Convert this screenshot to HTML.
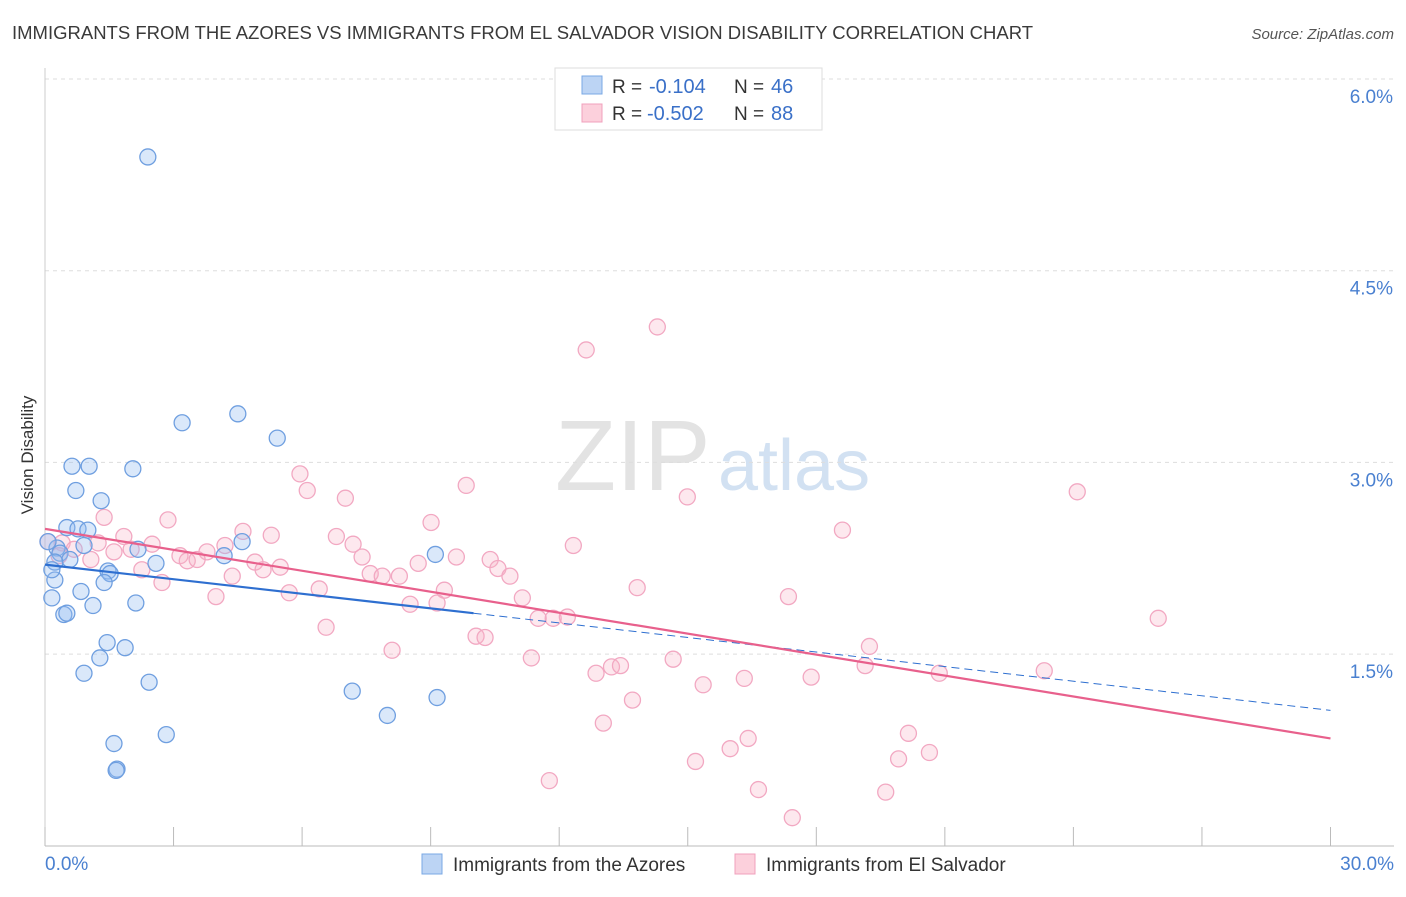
<!DOCTYPE html>
<html><head><meta charset="utf-8"><style>
body{margin:0;background:#fff;font-family:"Liberation Sans",sans-serif}
svg text{font-family:"Liberation Sans",sans-serif}
</style></head><body>
<svg id="chart" width="1406" height="892" xmlns="http://www.w3.org/2000/svg">
<text x="12" y="39" font-size="18.5" fill="#3a3a3a">IMMIGRANTS FROM THE AZORES VS IMMIGRANTS FROM EL SALVADOR VISION DISABILITY CORRELATION CHART</text>
<text x="1394" y="39" font-size="15" fill="#555" text-anchor="end" font-style="italic">Source: ZipAtlas.com</text>
<text x="555" y="490" font-size="100" fill="#ddd" font-family="Liberation Serif" opacity="0.8">ZIP</text>
<text x="718" y="490" font-size="72" fill="#c8daf0" opacity="0.8">atlas</text>
<g id="grid"></g><g id="axes"></g><g id="marks"></g>
<text transform="translate(33,455) rotate(-90)" font-size="17" fill="#333" text-anchor="middle">Vision Disability</text>
<g>
<rect x="555" y="68" width="267" height="62" fill="#fff" stroke="#ddd"/>
<rect x="582" y="76" width="20" height="18" fill="#bcd4f4" stroke="#7aa8e4"/>
<rect x="582" y="104" width="20" height="18" fill="#fcd0dc" stroke="#f0a0bc"/>
<text x="612" y="93" font-size="19" fill="#333">R =</text>
<text x="649" y="93" font-size="20" fill="#3a70c8">-0.104</text>
<text x="734" y="93" font-size="19" fill="#333">N =</text>
<text x="771" y="93" font-size="20" fill="#3a70c8">46</text>
<text x="612" y="120" font-size="19" fill="#333">R =</text>
<text x="647" y="120" font-size="20" fill="#3a70c8">-0.502</text>
<text x="734" y="120" font-size="19" fill="#333">N =</text>
<text x="771" y="120" font-size="20" fill="#3a70c8">88</text>
</g>
<g>
<rect x="422" y="854" width="20" height="20" fill="#bcd4f4" stroke="#7aa8e4"/>
<text x="453" y="871" font-size="19" fill="#333">Immigrants from the Azores</text>
<rect x="735" y="854" width="20" height="20" fill="#fcd0dc" stroke="#f0a0bc"/>
<text x="766" y="871" font-size="19" fill="#333">Immigrants from El Salvador</text>
</g>
</svg>
<script>
const yTicks=[6.0,4.5,3.0,1.5];
const xTickLabels=["0.0%","30.0%"];
const blueX=[2.40,4.50,3.20,5.42,0.63,1.03,2.05,0.72,1.31,0.51,0.77,1.00,4.60,0.91,0.28,2.17,0.35,9.11,4.18,0.58,0.23,2.59,1.47,1.52,0.23,1.38,0.84,0.16,2.12,1.12,0.44,0.51,1.45,1.87,1.28,0.91,2.43,7.17,9.15,7.99,2.83,1.61,1.68,1.66,0.16,0.07];
const blueY=[5.39,3.38,3.31,3.19,2.97,2.97,2.95,2.78,2.70,2.49,2.48,2.47,2.38,2.35,2.33,2.32,2.29,2.28,2.27,2.24,2.22,2.21,2.15,2.13,2.08,2.06,1.99,1.94,1.90,1.88,1.81,1.82,1.59,1.55,1.47,1.35,1.28,1.21,1.16,1.02,0.87,0.80,0.60,0.59,2.16,2.38];
const pinkX=[14.29,12.63,24.09,5.95,6.12,9.83,7.01,14.99,9.01,1.38,2.87,18.61,4.62,5.28,1.84,6.80,0.07,0.40,1.24,2.50,4.20,7.19,12.33,0.68,2.01,1.61,3.78,3.15,7.40,9.60,10.39,0.33,1.07,3.32,4.90,3.55,5.49,5.09,10.57,2.26,8.71,7.59,7.87,8.27,10.85,4.37,2.73,9.32,13.82,6.40,5.70,3.99,17.35,11.14,8.52,9.15,25.98,11.51,11.86,12.19,6.56,10.06,10.27,19.24,8.10,11.35,14.66,13.22,13.43,12.86,19.14,23.32,20.87,17.88,16.32,15.36,13.71,13.03,20.15,16.41,15.99,20.64,15.18,19.92,11.77,16.65,19.62,17.44];
const pinkY=[4.06,3.88,2.77,2.91,2.78,2.82,2.72,2.73,2.53,2.57,2.55,2.47,2.46,2.43,2.42,2.42,2.38,2.37,2.37,2.36,2.35,2.36,2.35,2.32,2.32,2.30,2.30,2.27,2.26,2.26,2.24,2.27,2.24,2.23,2.22,2.24,2.18,2.16,2.17,2.16,2.21,2.13,2.11,2.11,2.11,2.11,2.06,2.00,2.02,2.01,1.98,1.95,1.95,1.94,1.89,1.90,1.78,1.78,1.78,1.79,1.71,1.64,1.63,1.56,1.53,1.47,1.46,1.40,1.41,1.35,1.41,1.37,1.35,1.32,1.31,1.26,1.14,0.96,0.88,0.84,0.76,0.73,0.66,0.68,0.51,0.44,0.42,0.22];
const blueTrend=[2.20,1.82,1.06]; // at x=0, 10, 30
const pinkTrend=[2.48,0.84]; // at x=0, 30
const X=v=>45+v*42.85, Y=v=>79+(6-v)*127.8;
const NS="http://www.w3.org/2000/svg";
function mk(p,t,a){const e=document.createElementNS(NS,t);for(const k in a)e.setAttribute(k,a[k]);p.appendChild(e);return e;}
const grid=document.getElementById('grid'),axes=document.getElementById('axes'),marks=document.getElementById('marks');
yTicks.forEach(t=>{
 const l=mk(grid,'line',{x1:45,x2:1394,y1:Y(t),y2:Y(t),stroke:'#ddd','stroke-dasharray':'4,4'});
 
 
 const tx=mk(axes,'text',{x:1393,y:Y(t)+24,'font-size':19,fill:'#4a80d0','text-anchor':'end'});
 tx.textContent=t.toFixed(1)+'%';
 
 
});
const ax=mk(axes,'line',{x1:45,x2:1394,y1:846,y2:846,stroke:'#bbb'});


const ay=mk(axes,'line',{x1:45,x2:45,y1:68,y2:846,stroke:'#ccc'});


for(let i=0;i<=10;i++){const t=mk(axes,'line',{x1:X(i*3),x2:X(i*3),y1:827,y2:846,stroke:'#bbb'});
 
 }
[[0,'start',45],[30,'end',1394]].forEach((d,i)=>{const t=mk(axes,'text',{x:d[2],y:870,'font-size':19,fill:'#4a80d0','text-anchor':d[1]});t.textContent=xTickLabels[i];
 
 });
function pts(xs,ys,fill,stroke,name){xs.forEach((x,i)=>{const c=mk(marks,'circle',{cx:X(x),cy:Y(ys[i]),r:8,fill:fill,stroke:stroke,'stroke-width':1.3});
 
 });}
pts(pinkX,pinkY,'rgba(248,180,200,0.3)','#f2a8c2','point-el-salvador');
pts(blueX,blueY,'rgba(150,190,240,0.35)','#6f9fe0','point-azores');
let l1=mk(marks,'line',{x1:X(0),y1:Y(blueTrend[0]),x2:X(10),y2:Y(blueTrend[1]),stroke:'#2e6fd0','stroke-width':2.2});


let l2=mk(marks,'line',{x1:X(10),y1:Y(blueTrend[1]),x2:X(30),y2:Y(blueTrend[2]),stroke:'#2e6fd0','stroke-width':1,'stroke-dasharray':'8,5'});


let l3=mk(marks,'line',{x1:X(0),y1:Y(pinkTrend[0]),x2:X(30),y2:Y(pinkTrend[1]),stroke:'#e8608c','stroke-width':2.2});


</script>
</body></html>
